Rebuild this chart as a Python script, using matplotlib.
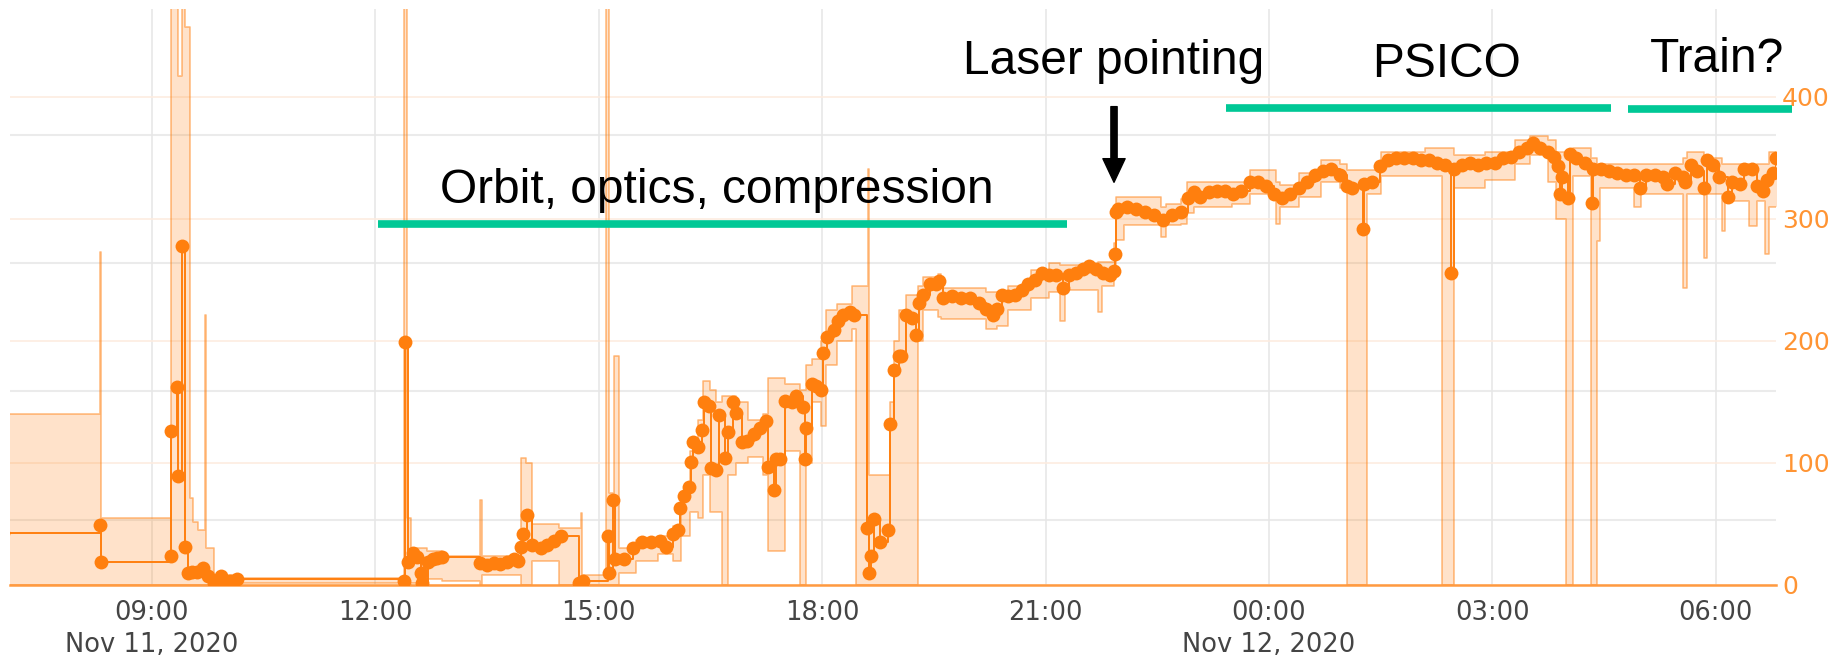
import numpy as np
import pandas as pd
import matplotlib
matplotlib.use("Agg")
import matplotlib.pyplot as plt
import matplotlib.dates as mdates

# ---------------- data (hours since 2020-11-11 00:00) ----------------
mean_hours = [
    7.00, 8.30, 8.31, 9.25, 9.26, 9.34, 9.35, 9.41, 9.45, 9.48, 9.54, 9.60, 9.69, 9.75, 9.84, 9.93, 9.99, 10.05, 10.14,
    12.39, 12.40, 12.44, 12.50, 12.56, 12.62, 12.63, 12.71, 12.77, 12.83, 12.90,
    13.41, 13.50, 13.59, 13.68, 13.77, 13.86, 13.92, 13.95, 13.98, 14.04, 14.10, 14.22, 14.31, 14.40, 14.49,
    14.73, 14.76, 14.79, 15.12, 15.14, 15.19,
    15.22, 15.34, 15.46, 15.58, 15.70, 15.82, 15.91, 16.00, 16.06, 16.09, 16.15, 16.21, 16.24, 16.26, 16.33,
    16.39, 16.42, 16.48, 16.51, 16.58, 16.62, 16.69, 16.74, 16.80, 16.84, 16.92, 16.99, 17.08, 17.17, 17.24,
    17.28, 17.35, 17.38, 17.44, 17.50, 17.59, 17.65, 17.74, 17.77, 17.78, 17.86, 17.92, 17.98, 18.01, 18.07,
    18.16, 18.22, 18.28, 18.37, 18.43, 18.60, 18.63, 18.65, 18.70, 18.78, 18.88, 18.91, 18.97, 19.03, 19.06,
    19.12, 19.21, 19.26, 19.30, 19.36, 19.45, 19.53, 19.57, 19.63, 19.75, 19.87, 19.99, 20.11, 20.20, 20.29,
    20.35, 20.41, 20.50, 20.59, 20.68, 20.77, 20.86, 20.95, 21.05, 21.14, 21.23, 21.32, 21.41, 21.50, 21.59,
    21.68, 21.77, 21.86, 21.92, 21.93, 21.95, 21.98, 22.10, 22.22, 22.34, 22.46, 22.58, 22.70, 22.82, 22.91,
    23.00, 23.08, 23.19, 23.30, 23.41, 23.52, 23.63, 23.74, 23.85, 23.96, 24.07, 24.18, 24.29, 24.40, 24.51,
    24.62, 24.73, 24.84, 24.95, 25.05, 25.11, 25.27, 25.28, 25.38, 25.49, 25.60, 25.71, 25.82, 25.93, 26.04,
    26.15, 26.26, 26.37, 26.45, 26.48, 26.59, 26.70, 26.81, 26.92, 27.03, 27.14, 27.25, 27.36, 27.47, 27.55,
    27.64, 27.75, 27.83, 27.88, 27.91, 27.94, 28.02, 28.05, 28.13, 28.24, 28.34, 28.35, 28.46, 28.57, 28.68,
    28.79, 28.90, 28.98, 29.07, 29.18, 29.29, 29.34, 29.45, 29.56, 29.59, 29.67, 29.75, 29.84, 29.89, 29.97,
    30.05, 30.16, 30.22, 30.33, 30.38, 30.49, 30.55, 30.63, 30.69, 30.77, 30.81,
]
mean_values = [
    43, 49, 19, 24, 126, 162, 89, 278, 31, 10, 11, 11, 14, 7, 2, 7, 2, 3, 5,
    3, 199, 19, 26, 23, 10, 2, 19, 21, 22, 23,
    18, 16, 18, 17, 19, 21, 20, 31, 42, 57, 33, 30, 33, 36, 40,
    2, 0, 3, 40, 10, 70,
    21, 21, 30, 35, 35, 36, 31, 42, 45, 63, 73, 80, 101, 117, 113,
    127, 150, 147, 96, 94, 139, 104, 125, 150, 141, 117, 118, 124, 129, 134,
    97, 78, 103, 103, 151, 150, 155, 146, 103, 129, 165, 163, 160, 190, 203,
    209, 216, 221, 224, 221, 47, 10, 24, 54, 35, 45, 132, 176, 188, 188,
    221, 219, 205, 231, 238, 247, 247, 249, 235, 237, 235, 235, 231, 226, 221,
    226, 238, 237, 238, 242, 247, 250, 256, 254, 254, 243, 254, 256, 259, 261,
    259, 256, 254, 257, 271, 306, 308, 310, 308, 306, 303, 299, 303, 306, 317,
    322, 318, 322, 323, 323, 320, 323, 330, 330, 327, 320, 317, 320, 325, 330,
    336, 339, 341, 336, 327, 325, 292, 329, 330, 343, 348, 350, 350, 350, 348,
    348, 346, 344, 256, 341, 344, 346, 344, 346, 346, 350, 351, 355, 358, 362,
    358, 355, 351, 343, 320, 334, 317, 353, 350, 346, 313, 341, 341, 339, 338,
    336, 336, 325, 336, 336, 334, 329, 338, 334, 330, 344, 339, 325, 348, 344,
    334, 318, 330, 329, 341, 341, 327, 323, 332, 338, 350,
]

band_hours = [
    7.00, 8.30, 8.32, 9.26, 9.35, 9.41, 9.45, 9.51, 9.55, 9.62, 9.71, 9.73, 9.84, 10.14,
    12.38, 12.42, 12.48, 12.69, 12.90, 13.40, 13.43, 13.95, 14.02, 14.10, 14.46, 14.76, 14.78,
    15.10, 15.14, 15.21, 15.27, 15.50, 15.80, 16.00, 16.10, 16.22, 16.33, 16.40, 16.50, 16.58,
    16.66, 16.74, 16.85, 17.00, 17.20, 17.28, 17.50, 17.70, 17.78, 17.86, 17.98, 18.05, 18.20,
    18.40, 18.46, 18.61, 18.63, 18.91, 18.97, 19.03, 19.12, 19.29, 19.36, 19.55, 19.60, 20.20,
    20.35, 20.50, 20.80, 21.05, 21.20, 21.26, 21.70, 21.76, 21.92, 21.95, 22.05, 22.55, 22.62,
    22.82, 22.90, 23.00, 23.50, 23.74, 24.10, 24.15, 24.40, 24.70, 24.95, 25.05, 25.32, 25.50,
    26.10, 26.33, 26.48, 26.90, 27.30, 27.50, 27.75, 27.85, 27.99, 28.08, 28.32, 28.40, 28.45,
    28.90, 29.00, 29.56, 29.61, 29.84, 29.88, 30.08, 30.12, 30.45, 30.55, 30.66, 30.72, 30.82,
]
band_low = [
    0, 0, 0, 0, 0, 0, 0, 0, 0, 0, 0, 0, 2, 2,
    0, 0, 2, 5, 3, 0, 8, 0, 0, 20, 0, 0, 0,
    0, 0, 0, 10, 20, 25, 20, 40, 60, 55, 90, 60, 60,
    0, 90, 100, 105, 90, 28, 110, 0, 100, 150, 130, 180, 200,
    210, 0, 0, 0, 0, 0, 0, 0, 200, 225, 220, 218, 210,
    212, 225, 235, 240, 216, 242, 224, 245, 255, 283, 295, 285, 295,
    296, 305, 310, 312, 320, 296, 310, 318, 330, 325, 0, 320, 335,
    335, 0, 325, 332, 345, 352, 330, 300, 0, 335, 0, 282, 325,
    310, 320, 243, 320, 268, 320, 290, 315, 294, 315, 271, 310, 310,
]
band_high = [
    140, 273, 55, 500, 417, 500, 457, 71, 52, 45, 221, 30, 8, 6,
    500, 55, 30, 28, 24, 70, 24, 104, 100, 50, 47, 59, 8,
    500, 75, 188, 30, 37, 40, 48, 75, 110, 135, 167, 160, 150,
    155, 155, 150, 135, 140, 170, 165, 160, 180, 185, 200, 225, 230,
    245, 245, 341, 90, 150, 200, 225, 238, 245, 252, 255, 243, 240,
    240, 245, 258, 264, 262, 262, 265, 265, 280, 318, 318, 310, 312,
    316, 330, 330, 330, 340, 330, 328, 338, 348, 345, 340, 340, 355,
    358, 358, 352, 355, 365, 368, 365, 355, 355, 358, 350, 345, 345,
    345, 345, 350, 355, 345, 350, 345, 345, 340, 345, 345, 355, 355,
]

x_tick_hours = [9, 12, 15, 18, 21, 24, 27, 30]
x_tick_labels = ["09:00\nNov 11, 2020", "12:00", "15:00", "18:00", "21:00",
                 "00:00\nNov 12, 2020", "03:00", "06:00"]
y_ticks = [0, 100, 200, 300, 400]
y_tick_labels = ["0", "100", "200", "300", "400"]
hidden_left_ticks = [1, 2, 3, 4]

phase_labels = ["Orbit, optics, compression", "PSICO", "Train?"]
phase_start = [12.03, 23.42, 28.82]
phase_end = [21.29, 28.60, 31.03]
phase_level = [296, 391, 390]
phase_text_hour = [16.58, 26.38, 30.02]
phase_text_level = [313, 416, 420]
arrow_label = "Laser pointing"
arrow_hour = 21.92
arrow_from, arrow_to = 392, 330
arrow_text_level = 419

# ---------------- helpers ----------------
base = pd.Timestamp("2020-11-11")


def to_num(hours):
    ts = base + pd.to_timedelta(np.asarray(hours, dtype=float), unit="h")
    return mdates.date2num(ts.to_pydatetime())


ORANGE = "#ff7f0e"
GREEN = "#00c896"

plt.rcParams["font.family"] = ["DejaVu Sans"]

W, H = 1843, 661
fig = plt.figure(figsize=(W / 100, H / 100), dpi=100)
left_px, right_px, top_px, bottom_px = 10, 1776, 9, 585
rect = [left_px / W, 1 - bottom_px / H, (right_px - left_px) / W, (bottom_px - top_px) / H]

x_lo, x_hi = to_num([7.094, 30.81])

# hidden left axis that only supplies the grey horizontal grid
ax_g = fig.add_axes(rect, zorder=0)
ax_g.set_xlim(x_lo, x_hi)
ax_g.set_ylim(0.49, 4.98)
ax_g.set_yticks(hidden_left_ticks)
ax_g.set_xticks([])
ax_g.yaxis.grid(True, color="#ebebeb", lw=1.5)
ax_g.tick_params(axis="y", length=0, labelleft=False)
for s in ax_g.spines.values():
    s.set_visible(False)

ax = fig.add_axes(rect, zorder=1)
ax.patch.set_visible(False)
ax.set_xlim(x_lo, x_hi)
ax.set_ylim(0, 472)

bt = to_num(band_hours)
ax.fill_between(bt, band_low, band_high, step="post", color=ORANGE, alpha=0.22, lw=0, zorder=2)
ax.step(bt, band_high, where="post", color=ORANGE, alpha=0.5, lw=1.2, zorder=2)
ax.step(bt, band_low, where="post", color=ORANGE, alpha=0.5, lw=1.2, zorder=2)

mt = to_num(mean_hours)
ax.plot(mt, mean_values, drawstyle="steps-post", color=ORANGE, lw=1.4,
        marker="o", markersize=10, markeredgewidth=0, zorder=3)

# axes styling
ax.set_xticks(to_num(x_tick_hours))
ax.set_xticklabels(x_tick_labels, linespacing=1.3)
ax.tick_params(axis="x", length=0, pad=10.5, labelsize=18.5, labelcolor="#444444")
ax.xaxis.grid(True, color="#e6e6e6", lw=1.1)
ax.yaxis.tick_right()
ax.set_yticks(y_ticks)
ax.set_yticklabels(y_tick_labels)
ax.tick_params(axis="y", length=0, pad=4.5, labelsize=18, labelcolor="#ff9433")
ax.yaxis.grid(True, color="#fdece0", lw=1.2)
ax.set_axisbelow(True)
for name in ["top", "left", "right"]:
    ax.spines[name].set_visible(False)
ax.spines["bottom"].set_color("#ff9a40")
ax.spines["bottom"].set_linewidth(1.8)

# annotations
for lab, h0, h1, lev, th, tl in zip(phase_labels, phase_start, phase_end, phase_level,
                                     phase_text_hour, phase_text_level):
    ax.plot(to_num([h0, h1]), [lev, lev], color=GREEN, lw=5.5, solid_capstyle="butt",
            clip_on=False, zorder=6)
    ax.text(to_num([th])[0], tl, lab, ha="center", va="baseline", fontsize=34.5,
            family=["Liberation Sans", "DejaVu Sans"], color="black", zorder=7)

ax.text(to_num([arrow_hour])[0], arrow_text_level, arrow_label, ha="center", va="baseline",
        fontsize=34.5, family=["Liberation Sans", "DejaVu Sans"], color="black", zorder=7)
ax.annotate("", xy=(to_num([arrow_hour])[0], arrow_to), xytext=(to_num([arrow_hour])[0], arrow_from),
            arrowprops=dict(facecolor="black", edgecolor="black", width=4.5, headwidth=16,
                            headlength=17, shrink=0), zorder=7)

fig.savefig("out.png", dpi=100)
